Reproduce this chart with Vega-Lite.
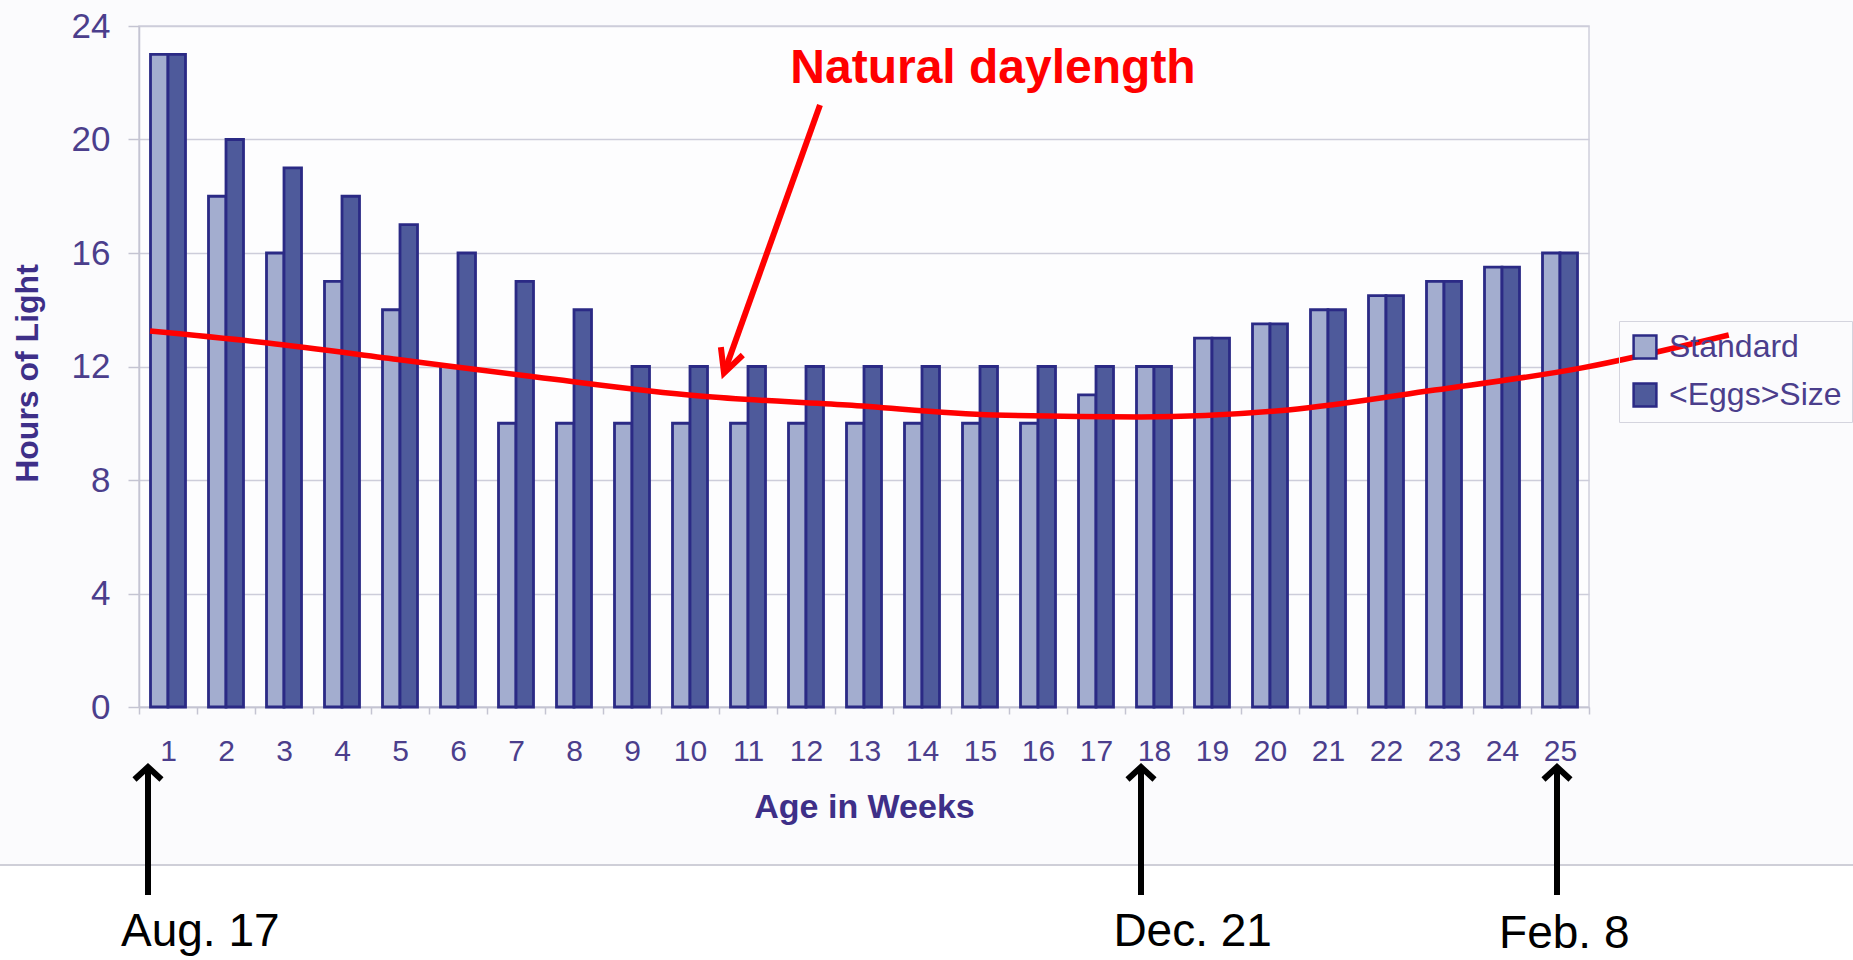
{
  "$schema": "https://vega.github.io/schema/vega-lite/v6.json",
  "autosize": {"type": "none"},
  "padding": {"left": 139, "top": 26, "right": 264, "bottom": 253},
  "width": 1450,
  "height": 681,
  "background": "#fbfbfd",
  "config": {
    "font": "Liberation Sans",
    "view": {"stroke": "#cfcfdc", "strokeWidth": 1.5, "fill": "#fdfdfe"},
    "axis": {"domainColor": "#c4c4d2", "domainWidth": 1.5, "tickColor": "#c4c4d2", "tickWidth": 1.5, "gridColor": "#cdcdda", "gridWidth": 1.5}
  },
  "datasets": {
    "bars": [
      {"week": 1, "series": "Standard", "hours": 23}, {"week": 1, "series": "<Eggs>Size", "hours": 23},
      {"week": 2, "series": "Standard", "hours": 18}, {"week": 2, "series": "<Eggs>Size", "hours": 20},
      {"week": 3, "series": "Standard", "hours": 16}, {"week": 3, "series": "<Eggs>Size", "hours": 19},
      {"week": 4, "series": "Standard", "hours": 15}, {"week": 4, "series": "<Eggs>Size", "hours": 18},
      {"week": 5, "series": "Standard", "hours": 14}, {"week": 5, "series": "<Eggs>Size", "hours": 17},
      {"week": 6, "series": "Standard", "hours": 12}, {"week": 6, "series": "<Eggs>Size", "hours": 16},
      {"week": 7, "series": "Standard", "hours": 10}, {"week": 7, "series": "<Eggs>Size", "hours": 15},
      {"week": 8, "series": "Standard", "hours": 10}, {"week": 8, "series": "<Eggs>Size", "hours": 14},
      {"week": 9, "series": "Standard", "hours": 10}, {"week": 9, "series": "<Eggs>Size", "hours": 12},
      {"week": 10, "series": "Standard", "hours": 10}, {"week": 10, "series": "<Eggs>Size", "hours": 12},
      {"week": 11, "series": "Standard", "hours": 10}, {"week": 11, "series": "<Eggs>Size", "hours": 12},
      {"week": 12, "series": "Standard", "hours": 10}, {"week": 12, "series": "<Eggs>Size", "hours": 12},
      {"week": 13, "series": "Standard", "hours": 10}, {"week": 13, "series": "<Eggs>Size", "hours": 12},
      {"week": 14, "series": "Standard", "hours": 10}, {"week": 14, "series": "<Eggs>Size", "hours": 12},
      {"week": 15, "series": "Standard", "hours": 10}, {"week": 15, "series": "<Eggs>Size", "hours": 12},
      {"week": 16, "series": "Standard", "hours": 10}, {"week": 16, "series": "<Eggs>Size", "hours": 12},
      {"week": 17, "series": "Standard", "hours": 11}, {"week": 17, "series": "<Eggs>Size", "hours": 12},
      {"week": 18, "series": "Standard", "hours": 12}, {"week": 18, "series": "<Eggs>Size", "hours": 12},
      {"week": 19, "series": "Standard", "hours": 13}, {"week": 19, "series": "<Eggs>Size", "hours": 13},
      {"week": 20, "series": "Standard", "hours": 13.5}, {"week": 20, "series": "<Eggs>Size", "hours": 13.5},
      {"week": 21, "series": "Standard", "hours": 14}, {"week": 21, "series": "<Eggs>Size", "hours": 14},
      {"week": 22, "series": "Standard", "hours": 14.5}, {"week": 22, "series": "<Eggs>Size", "hours": 14.5},
      {"week": 23, "series": "Standard", "hours": 15}, {"week": 23, "series": "<Eggs>Size", "hours": 15},
      {"week": 24, "series": "Standard", "hours": 15.5}, {"week": 24, "series": "<Eggs>Size", "hours": 15.5},
      {"week": 25, "series": "Standard", "hours": 16}, {"week": 25, "series": "<Eggs>Size", "hours": 16}
    ],
    "curve": [
      {"q": 0.69, "v": 13.25}, {"q": 2.72, "v": 12.83}, {"q": 5.03, "v": 12.23}, {"q": 7.34, "v": 11.63},
      {"q": 10.17, "v": 10.96}, {"q": 12.71, "v": 10.64}, {"q": 15.24, "v": 10.29}, {"q": 17.78, "v": 10.22},
      {"q": 20.31, "v": 10.47}, {"q": 22.84, "v": 11.17}, {"q": 25.38, "v": 11.95}, {"q": 27.91, "v": 13.11}
    ],
    "blackArrows": [
      {"q": 0.655, "top": -2.115, "bottom": -6.625},
      {"q": 17.776, "top": -2.115, "bottom": -6.625},
      {"q": 24.948, "top": -2.115, "bottom": -6.625}
    ],
    "redArrow": [
      {"q1": 12.241, "v1": 21.216, "q2": 10.586, "v2": 11.771}
    ],
    "labels": [
      {"text": "Aug. 17", "q": 0.19, "v": -8.42},
      {"text": "Dec. 21", "q": 17.3, "v": -8.42},
      {"text": "Feb. 8", "q": 23.95, "v": -8.5}
    ],
    "title": [
      {"text": "Natural daylength", "q": 15.224, "v": 21.99}
    ],
    "divider": [
      {"q1": -1.9, "q2": 30.1, "v": -5.568, "vb": -9.0}
    ]
  },
  "layer": [
    {
      "data": {"name": "bars"},
      "mark": {"type": "bar", "stroke": "#2b2a85", "strokeWidth": 2.8},
      "encoding": {
        "x": {
          "field": "week", "type": "ordinal",
          "scale": {"paddingInner": 0, "paddingOuter": 0},
          "axis": {
            "labelAngle": 0, "tickBand": "extent", "tickSize": 7, "grid": false,
            "labelFontSize": 30, "labelColor": "#4b3e8c", "labelBaseline": "alphabetic", "labelPadding": 46,
            "title": "Age in Weeks", "titleFontSize": 34, "titleFontWeight": "bold", "titleColor": "#3e2f88",
            "titleX": 725, "titleY": 110, "titleBaseline": "alphabetic", "titleAlign": "center"
          }
        },
        "xOffset": {
          "field": "series", "type": "nominal", "sort": ["Standard", "<Eggs>Size"],
          "scale": {"paddingInner": 0, "paddingOuter": 0.657}
        },
        "y": {
          "field": "hours", "type": "quantitative",
          "scale": {"domain": [0, 24], "nice": false},
          "axis": {
            "values": [0, 4, 8, 12, 16, 20, 24], "grid": true, "tickSize": 11,
            "labelFontSize": 35, "labelColor": "#4b3e8c", "labelPadding": 18,
            "title": "Hours of Light", "titleFontSize": 32, "titleFontWeight": "bold", "titleColor": "#3e2f88",
            "titleX": -112, "titleY": 347, "titleAngle": -90, "titleBaseline": "middle", "titleAlign": "center"
          }
        },
        "color": {
          "field": "series", "type": "nominal", "sort": ["Standard", "<Eggs>Size"],
          "scale": {"domain": ["Standard", "<Eggs>Size"], "range": ["#a3adcf", "#4e5a9b"]},
          "legend": {
            "title": null, "orient": "none", "legendX": 1480, "legendY": 295,
            "symbolType": "square", "symbolSize": 520, "symbolStrokeColor": "#2b2a85", "symbolStrokeWidth": 2.5,
            "symbolOpacity": 1, "labelLimit": 400,
            "labelFontSize": 32, "labelColor": "#4b3e8c", "labelOffset": 8,
            "padding": 10, "rowPadding": 14, "strokeColor": "#d4d4de", "fillColor": "transparent"
          }
        }
      }
    },
    {
      "layer": [
        {
          "data": {"name": "divider"},
          "mark": {"type": "rect", "color": "#ffffff"},
          "encoding": {
            "x": {"field": "q1", "type": "quantitative", "scale": {"domain": [0.5, 25.5], "nice": false, "zero": false}, "axis": null},
            "x2": {"field": "q2"},
            "y": {"field": "v", "type": "quantitative", "scale": {"domain": [0, 24], "nice": false}, "axis": null},
            "y2": {"field": "vb"}
          }
        },
        {
          "data": {"name": "divider"},
          "mark": {"type": "rule", "color": "#cfcfd8", "strokeWidth": 2},
          "encoding": {
            "x": {"field": "q1", "type": "quantitative"},
            "x2": {"field": "q2"},
            "y": {"field": "v", "type": "quantitative"}
          }
        },
        {
          "data": {"name": "curve"},
          "mark": {"type": "line", "color": "#ff0000", "strokeWidth": 5.5, "interpolate": "monotone"},
          "encoding": {
            "x": {"field": "q", "type": "quantitative"},
            "y": {"field": "v", "type": "quantitative"}
          }
        },
        {
          "data": {"name": "redArrow"},
          "mark": {"type": "rule", "color": "#ff0000", "strokeWidth": 6},
          "encoding": {
            "x": {"field": "q1", "type": "quantitative"},
            "x2": {"field": "q2"},
            "y": {"field": "v1", "type": "quantitative"},
            "y2": {"field": "v2"}
          }
        },
        {
          "data": {"name": "redArrow"},
          "mark": {"type": "point", "shape": "M-0.5,1L0,0L0.5,1", "size": 2172, "filled": false, "stroke": "#ff0000", "strokeWidth": 6, "opacity": 1, "angle": 199.7, "strokeJoin": "miter", "strokeCap": "butt"},
          "encoding": {
            "x": {"field": "q2", "type": "quantitative"},
            "y": {"field": "v2", "type": "quantitative"}
          }
        },
        {
          "data": {"name": "blackArrows"},
          "mark": {"type": "rule", "color": "#000000", "strokeWidth": 6},
          "encoding": {
            "x": {"field": "q", "type": "quantitative"},
            "y": {"field": "top", "type": "quantitative"},
            "y2": {"field": "bottom"}
          }
        },
        {
          "data": {"name": "blackArrows"},
          "mark": {"type": "point", "shape": "M-1,0.93L0,0L1,0.93", "size": 729, "filled": false, "stroke": "#000000", "strokeWidth": 6, "opacity": 1, "strokeJoin": "miter", "strokeCap": "butt"},
          "encoding": {
            "x": {"field": "q", "type": "quantitative"},
            "y": {"field": "top", "type": "quantitative"}
          }
        },
        {
          "data": {"name": "labels"},
          "mark": {"type": "text", "fontSize": 46, "color": "#000000", "align": "left", "baseline": "alphabetic", "font": "Liberation Sans"},
          "encoding": {
            "x": {"field": "q", "type": "quantitative"},
            "y": {"field": "v", "type": "quantitative"},
            "text": {"field": "text"}
          }
        },
        {
          "data": {"name": "title"},
          "mark": {"type": "text", "fontSize": 48, "fontWeight": "bold", "color": "#ff0000", "align": "center", "baseline": "alphabetic", "font": "Liberation Sans"},
          "encoding": {
            "x": {"field": "q", "type": "quantitative"},
            "y": {"field": "v", "type": "quantitative"},
            "text": {"field": "text"}
          }
        }
      ]
    }
  ],
  "resolve": {"scale": {"x": "independent", "y": "independent"}}
}
